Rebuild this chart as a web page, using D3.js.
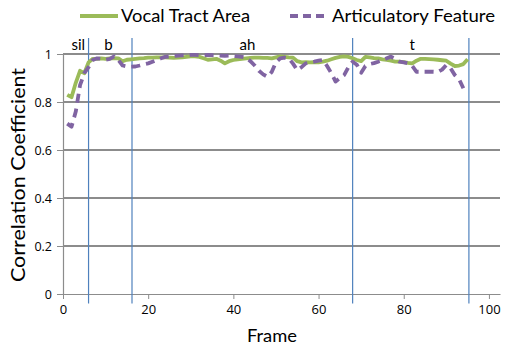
<!DOCTYPE html>
<html><head><meta charset="utf-8">
<script src="https://cdn.jsdelivr.net/npm/d3@7"></script>
<style>body{margin:0;background:#fff}svg{display:block}text{font-family:Lato,"Open Sans",sans-serif;fill:#000}</style>
</head><body><svg id="c" width="506" height="349"></svg>
<script>
const vocalTractArea = [0.83,0.82,0.88,0.93,0.92,0.965,0.98,0.98,0.982,0.98,0.982,0.983,0.982,0.97,0.976,0.978,0.98,0.982,0.983,0.985,0.985,0.986,0.986,0.986,0.985,0.984,0.985,0.986,0.988,0.99,0.99,0.988,0.982,0.976,0.978,0.98,0.972,0.961,0.97,0.975,0.978,0.98,0.982,0.984,0.985,0.985,0.984,0.984,0.982,0.986,0.99,0.988,0.986,0.985,0.97,0.965,0.966,0.965,0.966,0.965,0.968,0.972,0.978,0.984,0.988,0.99,0.988,0.982,0.975,0.97,0.988,0.986,0.983,0.982,0.978,0.975,0.972,0.968,0.968,0.966,0.963,0.961,0.972,0.98,0.98,0.979,0.978,0.976,0.974,0.972,0.96,0.95,0.952,0.958,0.978];
const articulatoryFeature = [0.71,0.697,0.76,0.87,0.92,0.945,0.975,0.982,0.98,0.976,0.98,0.99,0.975,0.952,0.948,0.947,0.948,0.952,0.957,0.961,0.968,0.975,0.982,0.988,0.99,0.992,0.993,0.994,0.995,0.996,0.996,0.995,0.995,0.996,0.995,0.994,0.993,0.992,0.993,0.992,0.99,0.988,0.985,0.97,0.952,0.93,0.915,0.905,0.925,0.965,0.982,0.985,0.982,0.96,0.933,0.945,0.961,0.965,0.968,0.972,0.975,0.95,0.92,0.885,0.9,0.912,0.945,0.968,0.955,0.922,0.95,0.958,0.962,0.968,0.975,0.982,0.989,0.98,0.968,0.965,0.961,0.95,0.926,0.926,0.926,0.926,0.926,0.925,0.935,0.954,0.94,0.912,0.895,0.857];
const frames = vocalTractArea.map((d,i)=>i+1);
const boundaries = [6, 16.2, 68, 95.3];
const segmentLabels = ["sil","b","ah","t"];
const segmentLabelPos = [3.6, 10.7, 43.3, 82];
const boundaryExtent = [-0.04, 1.067];
const xTicks = [0,20,40,60,80,100];
const yTicks = [0,0.2,0.4,0.6,0.8,1];
const seriesNames = ["Vocal Tract Area","Articulatory Feature"];

const svg = d3.select("#c");
const x = d3.scaleLinear().domain([0,102.6]).range([63,500]);
const y = d3.scaleLinear().domain([0,1]).range([294,54]);
const grey = "#8c8c8c";

svg.append("g").selectAll("line").data(yTicks.filter(d=>d>0)).join("line")
  .attr("x1",x(0)).attr("x2",x(102.6)).attr("y1",d=>y(d)).attr("y2",d=>y(d))
  .attr("stroke",grey).attr("stroke-width",1.2).attr("shape-rendering","crispEdges");

const ya = svg.append("g").attr("transform",`translate(${x(0)},0)`)
  .call(d3.axisLeft(y).tickValues(yTicks).tickSize(6).tickPadding(5).tickFormat(d=>d===0?"0":d===1?"1":d3.format(".1f")(d)));
ya.select(".domain").attr("stroke",grey).attr("stroke-width",1.2);
ya.selectAll(".tick line").attr("stroke",grey);
ya.selectAll("text").attr("font-size",12.5).style("font-family","'Open Sans',sans-serif");

const xa = svg.append("g").attr("transform",`translate(0,${y(0)})`)
  .call(d3.axisBottom(x).tickValues(xTicks).tickSize(5).tickPadding(6).tickSizeOuter(0));
xa.select(".domain").attr("stroke",grey).attr("stroke-width",1.2);
xa.selectAll(".tick line").attr("stroke",grey);
xa.selectAll("text").attr("font-size",13).style("font-family","'Open Sans',sans-serif");

svg.append("g").selectAll("line").data(boundaries).join("line")
  .attr("x1",d=>x(d)).attr("x2",d=>x(d)).attr("y1",y(boundaryExtent[0])).attr("y2",y(boundaryExtent[1]))
  .attr("stroke","#4f81bd").attr("stroke-width",1.2);

svg.append("g").selectAll("text").data(segmentLabels).join("text")
  .attr("x",(d,i)=>x(segmentLabelPos[i])).attr("y",y(1)-4)
  .attr("text-anchor","middle").attr("font-size",15).text(d=>d);

const line = d3.line().x((d,i)=>x(frames[i])).y(d=>y(d));
svg.append("path").datum(vocalTractArea).attr("d",line).attr("fill","none")
  .attr("stroke","#9bbb59").attr("stroke-width",3.8).attr("stroke-linejoin","round");
svg.append("path").datum(articulatoryFeature).attr("d",line).attr("fill","none")
  .attr("stroke","#8064a2").attr("stroke-width",3.8).attr("stroke-dasharray","9,6").attr("stroke-linejoin","round");

const lg = svg.append("g");
lg.append("line").attr("x1",80).attr("x2",118).attr("y1",16).attr("y2",16).attr("stroke","#9bbb59").attr("stroke-width",3.8);
lg.append("text").attr("x",121).attr("y",22).attr("font-size",18).attr("textLength",129).attr("lengthAdjust","spacingAndGlyphs").text(seriesNames[0]);
lg.append("line").attr("x1",290).attr("x2",325).attr("y1",16).attr("y2",16).attr("stroke","#8064a2").attr("stroke-width",3.8).attr("stroke-dasharray","8,5");
lg.append("text").attr("x",332).attr("y",22).attr("font-size",18).attr("textLength",163).attr("lengthAdjust","spacingAndGlyphs").text(seriesNames[1]);

svg.append("text").attr("x",272).attr("y",342).attr("text-anchor","middle").attr("font-size",18).attr("textLength",50).attr("lengthAdjust","spacingAndGlyphs").text("Frame");
svg.append("text").attr("transform","translate(25,175) rotate(-90)").attr("text-anchor","middle").attr("font-size",18.5).attr("textLength",214).attr("lengthAdjust","spacingAndGlyphs").text("Correlation Coefficient");
</script></body></html>
